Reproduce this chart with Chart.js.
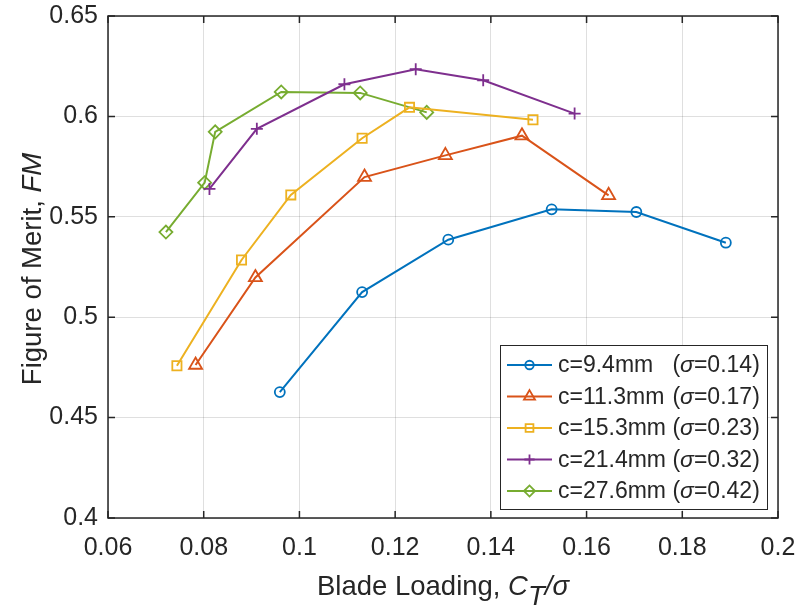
<!DOCTYPE html>
<html>
<head>
<meta charset="utf-8">
<title>Figure of Merit vs Blade Loading</title>
<script src="https://cdn.jsdelivr.net/npm/chart.js@4.4.1/dist/chart.umd.min.js"></script>
<style>
  html, body { margin: 0; padding: 0; background: #fff; }
  #wrap { position: relative; width: 798px; height: 611px; }
</style>
</head>
<body>
<div id="wrap"><canvas id="fmChart"></canvas></div>
<script>
// blade loading (CT/sigma) and figure of merit for each chord length
const loading94 = [0.0959, 0.1131, 0.1311, 0.1527, 0.1704, 0.1891];
const merit94   = [0.4627, 0.5125, 0.5386, 0.5537, 0.5524, 0.5371];

const loading113 = [0.0783, 0.0908, 0.1136, 0.1305, 0.1465, 0.1646];
const merit113   = [0.4762, 0.5198, 0.5698, 0.5806, 0.5904, 0.5607];

const loading153 = [0.0744, 0.0879, 0.0982, 0.1131, 0.1230, 0.1488];
const merit153   = [0.4758, 0.5285, 0.5609, 0.5891, 0.6045, 0.5983];

const loading214 = [0.0812, 0.0911, 0.1094, 0.1243, 0.1384, 0.1575];
const merit214   = [0.5639, 0.5938, 0.6160, 0.6235, 0.6180, 0.6014];

const loading276 = [0.0721, 0.0802, 0.0824, 0.0962, 0.1127, 0.1266];
const merit276   = [0.5424, 0.5670, 0.5923, 0.6122, 0.6117, 0.6020];

const chordLabels = ['c=9.4mm', 'c=11.3mm', 'c=15.3mm', 'c=21.4mm', 'c=27.6mm'];
const solidity    = ['0.14', '0.17', '0.23', '0.32', '0.42'];

const xTicks = [0.06, 0.08, 0.1, 0.12, 0.14, 0.16, 0.18, 0.2];
const yTicks = [0.4, 0.45, 0.5, 0.55, 0.6, 0.65];

const colors  = ['#0072BD', '#D95319', '#EDB120', '#7E2F8E', '#77AC30'];
const markers = ['circle', 'triangle', 'rect', 'cross', 'rectRot'];
const radii   = [5, 7.5, 6.5, 6, 6.5];

const FONT = '"Liberation Sans", Arial, Helvetica, sans-serif';
const INK = '#262626';

const series = [
  [loading94, merit94],
  [loading113, merit113],
  [loading153, merit153],
  [loading214, merit214],
  [loading276, merit276]
];

const datasets = series.map(([xs, ys], i) => ({
  label: chordLabels[i],
  data: xs.map((x, k) => ({ x: x, y: ys[k] })),
  borderColor: colors[i],
  borderWidth: 2,
  backgroundColor: 'rgba(0,0,0,0)',
  pointStyle: markers[i],
  pointRadius: radii[i],
  pointHoverRadius: radii[i],
  pointBorderWidth: 1.8,
  pointBorderColor: colors[i],
  pointBackgroundColor: 'rgba(0,0,0,0)',
  tension: 0,
  fill: false,
  clip: false
}));

function fmt(v) {
  return String(Number(v.toFixed(2)));
}

// small marker painter for the legend, same shapes as Chart.js uses
function marker(ctx, style, x, y, r) {
  ctx.beginPath();
  if (style === 'circle') {
    ctx.arc(x, y, r, 0, Math.PI * 2);
  } else if (style === 'triangle') {
    for (let k = 0; k < 3; k++) {
      const a = k * 2 * Math.PI / 3;
      const px = x + Math.sin(a) * r, py = y - Math.cos(a) * r;
      k ? ctx.lineTo(px, py) : ctx.moveTo(px, py);
    }
    ctx.closePath();
  } else if (style === 'rect') {
    const s = Math.SQRT1_2 * r;
    ctx.rect(x - s, y - s, 2 * s, 2 * s);
  } else if (style === 'cross') {
    ctx.moveTo(x, y - r); ctx.lineTo(x, y + r);
    ctx.moveTo(x - r, y); ctx.lineTo(x + r, y);
  } else if (style === 'rectRot') {
    ctx.moveTo(x - r, y); ctx.lineTo(x, y - r);
    ctx.lineTo(x + r, y); ctx.lineTo(x, y + r);
    ctx.closePath();
  }
  ctx.stroke();
}

const boxPlugin = {
  id: 'boxPlugin',
  beforeDatasetsDraw(chart) {
    const { ctx, chartArea: a, scales } = chart;
    ctx.save();
    ctx.strokeStyle = INK;
    ctx.lineWidth = 1.5;
    ctx.strokeRect(a.left, a.top, a.right - a.left, a.bottom - a.top);
    ctx.beginPath();
    const tl = 7;
    xTicks.forEach(v => {
      const px = scales.x.getPixelForValue(v);
      ctx.moveTo(px, a.bottom); ctx.lineTo(px, a.bottom - tl);
      ctx.moveTo(px, a.top); ctx.lineTo(px, a.top + tl);
    });
    yTicks.forEach(v => {
      const py = scales.y.getPixelForValue(v);
      ctx.moveTo(a.left, py); ctx.lineTo(a.left + tl, py);
      ctx.moveTo(a.right, py); ctx.lineTo(a.right - tl, py);
    });
    ctx.stroke();
    ctx.restore();
  },
  afterDraw(chart) {
    const { ctx, chartArea: a } = chart;
    ctx.save();
    ctx.fillStyle = INK;
    ctx.textBaseline = 'alphabetic';

    // x axis title: Blade Loading, C_T/sigma
    const tf = 27.5;
    const nFont = tf + 'px ' + FONT;
    const iFont = 'italic ' + tf + 'px ' + FONT;
    const p1 = 'Blade Loading, ';
    ctx.font = nFont; const w1 = ctx.measureText(p1).width;
    ctx.font = iFont;
    const wC = ctx.measureText('C').width;
    const wT = ctx.measureText('T').width;
    const wS = ctx.measureText('/\u03c3').width;
    const total = w1 + wC + wT + wS;
    let x = (a.left + a.right) / 2 - total / 2;
    const base = 595;
    ctx.textAlign = 'left';
    ctx.font = nFont; ctx.fillText(p1, x, base); x += w1;
    ctx.font = iFont; ctx.fillText('C', x, base); x += wC;
    ctx.fillText('T', x, base + 10); x += wT;
    ctx.fillText('/\u03c3', x, base);

    // y axis title: Figure of Merit, FM
    ctx.save();
    ctx.translate(41, (a.top + a.bottom) / 2 + 2);
    ctx.rotate(-Math.PI / 2);
    const q1 = 'Figure of Merit, ';
    ctx.font = nFont; const wq = ctx.measureText(q1).width;
    ctx.font = iFont; const wfm = ctx.measureText('FM').width;
    let y = -(wq + wfm) / 2;
    ctx.font = nFont; ctx.fillText(q1, y, 0); y += wq;
    ctx.font = iFont; ctx.fillText('FM', y, 0);
    ctx.restore();

    // legend box in the lower right of the axes
    const lx = 500, ly = 345, lw = 267, lh = 164;
    ctx.fillStyle = '#fff';
    ctx.fillRect(lx, ly, lw, lh);
    ctx.strokeStyle = INK;
    ctx.lineWidth = 1;
    ctx.strokeRect(lx + 0.5, ly + 0.5, lw, lh);

    const lf = 23;
    const lFont = lf + 'px ' + FONT;
    const lIFont = 'italic ' + lf + 'px ' + FONT;
    ctx.font = lFont;
    const textX = 558;
    const widest = Math.max(...chordLabels.map(s => ctx.measureText(s).width));
    const suffixX = textX + widest + ctx.measureText(' ').width;
    ctx.textBaseline = 'middle';
    chordLabels.forEach((lab, i) => {
      const ry = 365 + i * 31.5;
      ctx.strokeStyle = colors[i];
      ctx.lineWidth = 2;
      ctx.beginPath();
      ctx.moveTo(507, ry); ctx.lineTo(552, ry);
      ctx.stroke();
      ctx.lineWidth = 1.8;
      marker(ctx, markers[i], 529.5, ry, radii[i] * 0.85);

      ctx.fillStyle = INK;
      ctx.font = lFont;
      ctx.fillText(lab, textX, ry + 1);
      let sx = suffixX;
      ctx.fillText('(', sx, ry + 1); sx += ctx.measureText('(').width;
      ctx.font = lIFont;
      ctx.fillText('\u03c3', sx, ry + 1); sx += ctx.measureText('\u03c3').width;
      ctx.font = lFont;
      ctx.fillText('=' + solidity[i] + ')', sx, ry + 1);
    });
    ctx.restore();
  }
};

new Chart(document.getElementById('fmChart'), {
  type: 'line',
  data: { datasets: datasets },
  options: {
    responsive: true,
    maintainAspectRatio: false,
    animation: false,
    layout: { padding: { top: 16, right: 20, left: 0, bottom: 0 } },
    plugins: {
      legend: { display: false },
      title: { display: false },
      tooltip: { enabled: false }
    },
    scales: {
      x: {
        type: 'linear',
        min: 0.06,
        max: 0.2,
        afterFit(s) { s.height = 93; s.paddingLeft = 0; s.paddingRight = 0; },
        afterBuildTicks(s) { s.ticks = xTicks.map(v => ({ value: v })); },
        grid: { color: 'rgba(38,38,38,0.15)', lineWidth: 1, drawTicks: false },
        border: { display: false },
        ticks: {
          autoSkip: false,
          maxRotation: 0,
          padding: 15,
          color: INK,
          font: { family: FONT, size: 25 },
          callback: v => fmt(v)
        }
      },
      y: {
        type: 'linear',
        min: 0.4,
        max: 0.65,
        afterFit(s) { s.width = 108; s.paddingTop = 0; s.paddingBottom = 0; },
        afterBuildTicks(s) { s.ticks = yTicks.map(v => ({ value: v })); },
        grid: { color: 'rgba(38,38,38,0.15)', lineWidth: 1, drawTicks: false },
        border: { display: false },
        ticks: {
          padding: 10,
          color: INK,
          font: { family: FONT, size: 25 },
          callback: v => fmt(v)
        }
      }
    }
  },
  plugins: [boxPlugin]
});
</script>
</body>
</html>
